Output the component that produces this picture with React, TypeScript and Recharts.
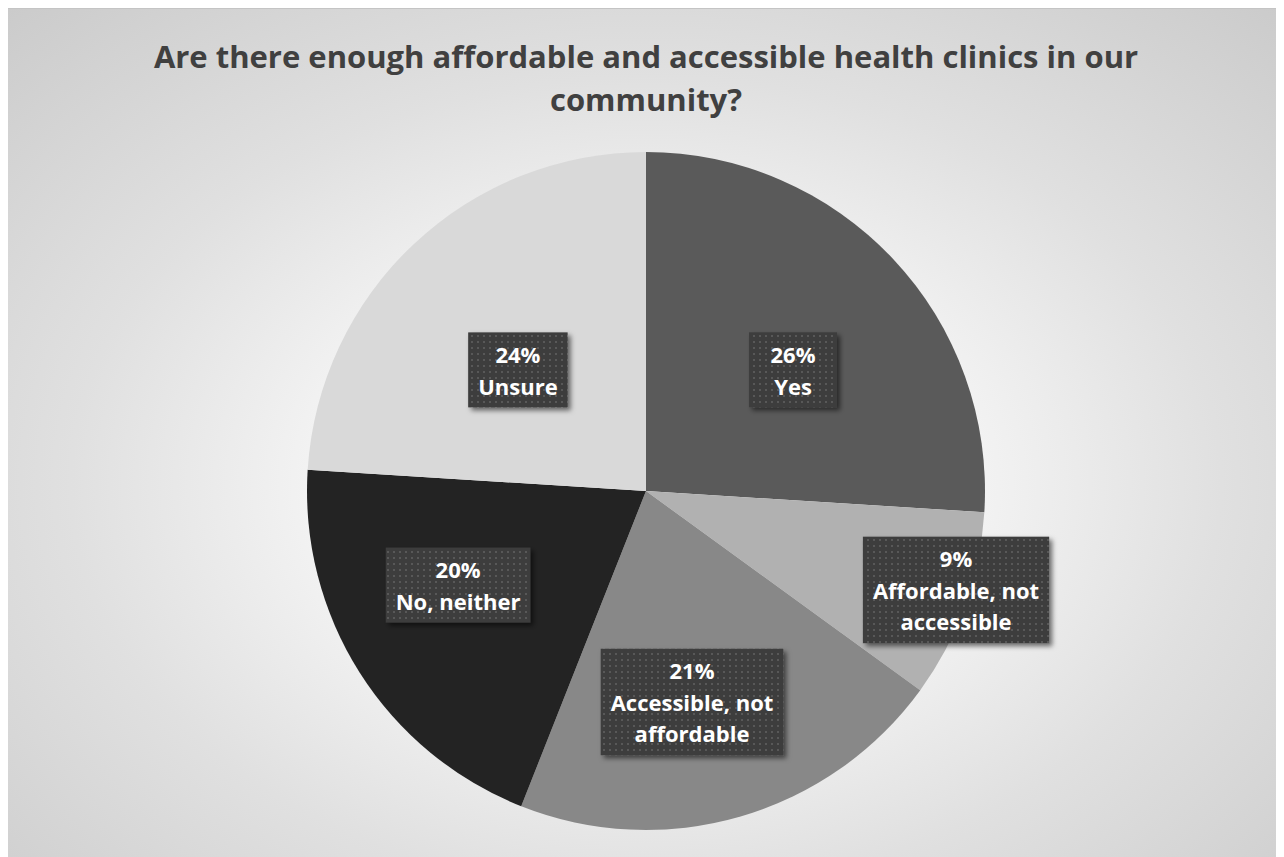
import { PieChart, Pie, Cell } from "recharts";

// survey answers, clockwise from 12 o'clock
const categories = [
  "Yes",
  "Affordable, not accessible",
  "Accessible, not affordable",
  "No, neither",
  "Unsure",
];
const shares = [26, 9, 21, 20, 24];
const sliceColors = ["#5a5a5a", "#b1b1b1", "#888888", "#232323", "#d9d9d9"];

// where each data label sits: fraction of radius + nudge in degrees off the slice middle
const labelPlace: Record<string, [number, number]> = {
  Yes: [0.562, -3.7],
  "Affordable, not accessible": [0.96, 2.1],
  "Accessible, not affordable": [0.637, -3.9],
  "No, neither": [0.62, -5.8],
  Unsure: [0.52, 3.4],
};

const data = categories.map((name, i) => ({ name, value: shares[i] }));

const LABEL_FONT = "bold 22px 'Open Sans'";
const RAD = Math.PI / 180;

let ctx: CanvasRenderingContext2D | null = null;
function textWidth(s: string) {
  if (!ctx) ctx = document.createElement("canvas").getContext("2d");
  if (!ctx) return s.length * 11;
  ctx.font = LABEL_FONT;
  return ctx.measureText(s).width;
}

function wrap(name: string, max = 15) {
  if (name.length <= max) return [name];
  const cut = name.lastIndexOf(" ", max);
  return [name.slice(0, cut), name.slice(cut + 1)];
}

function renderLabel(props: any) {
  const { cx, cy, midAngle, outerRadius, name, percent } = props;
  const [f, nudge] = labelPlace[name] ?? [0.6, 0];
  const a = (midAngle + nudge) * RAD;
  const x = cx + outerRadius * f * Math.cos(-a);
  const y = cy + outerRadius * f * Math.sin(-a);
  const lines = [`${Math.round(percent * 100)}%`, ...wrap(name)];
  const pitch = 31.5;
  const w = Math.max(88, Math.max(...lines.map(textWidth)) + 20);
  const h = lines.length * pitch + 12;
  return (
    <g>
      <rect
        x={x - w / 2}
        y={y - h / 2}
        width={w}
        height={h}
        fill="url(#dots)"
        filter="url(#boxShadow)"
      />
      {lines.map((t, i) => (
        <text
          key={i}
          x={x}
          y={y - ((lines.length - 1) * pitch) / 2 + i * pitch}
          textAnchor="middle"
          dominantBaseline="central"
          fill="#ffffff"
          style={{ font: LABEL_FONT }}
        >
          {t}
        </text>
      ))}
    </g>
  );
}

export default function App() {
  return (
    <div
      style={{
        position: "relative",
        width: 1280,
        height: 850,
        marginLeft: -2,
        boxSizing: "border-box",
        border: "1px solid #c4c4c4",
        background:
          "radial-gradient(ellipse 75% 80% at 50% 56%, #ffffff 0%, #f6f6f6 30%, #e0e0e0 60%, #c9c9c9 100%)",
        fontFamily: "'Open Sans', sans-serif",
      }}
    >
      <div
        style={{
          position: "absolute",
          left: 0,
          top: 26,
          width: "100%",
          textAlign: "center",
          fontSize: 31,
          fontWeight: 700,
          lineHeight: "43px",
          color: "#404040",
        }}
      >
        Are there enough affordable and accessible health clinics in our
        <br />
        community?
      </div>
      <PieChart
        width={1278}
        height={848}
        margin={{ top: 0, right: 0, bottom: 0, left: 0 }}
        style={{ position: "absolute", left: 0, top: 0 }}
      >
        <defs>
          <pattern id="dots" width="6" height="6" patternUnits="userSpaceOnUse">
            <rect width="6" height="6" fill="#3c3c3c" />
            <rect x="2" y="2" width="2" height="2" fill="#595959" />
          </pattern>
          <filter id="boxShadow" x="-20%" y="-20%" width="150%" height="150%">
            <feDropShadow dx="3" dy="3" stdDeviation="2.5" floodColor="#000" floodOpacity="0.55" />
          </filter>
        </defs>
        <Pie
          data={data}
          dataKey="value"
          nameKey="name"
          cx={639}
          cy={482}
          outerRadius={339}
          startAngle={90}
          endAngle={-270}
          stroke="none"
          labelLine={false}
          label={renderLabel}
          isAnimationActive={false}
        >
          {data.map((d, i) => (
            <Cell key={d.name} fill={sliceColors[i]} />
          ))}
        </Pie>
      </PieChart>
    </div>
  );
}
